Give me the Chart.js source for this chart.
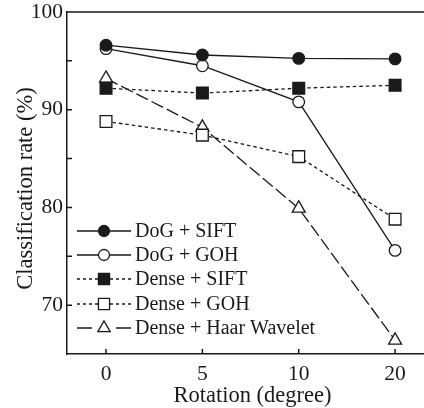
<!DOCTYPE html>
<html>
<head>
<meta charset="utf-8">
<script src="https://cdn.jsdelivr.net/npm/chart.js@4"></script>
<style>
  html, body { margin: 0; padding: 0; background: #fff; overflow: hidden; }
  #wrap { width: 424px; height: 408px; }
</style>
</head>
<body>
<div id="wrap"><canvas id="chart" width="424" height="408"></canvas></div>
<script>
// Data
const rotations = ['0', '5', '10', '20'];
const dogSift = [96.6, 95.6, 95.25, 95.2];
const dogGoh = [96.25, 94.5, 90.8, 75.6];
const denseSift = [92.2, 91.7, 92.2, 92.5];
const denseGoh = [88.8, 87.4, 85.2, 78.8];
const denseHaar = [93.2, 88.2, 79.9, 66.4];
const yTicks = [65, 70, 75, 80, 85, 90, 95, 100];
const xTitle = 'Rotation (degree)';
const yTitle = 'Classification rate (%)';

const ink = '#1a1a1a';
const serif = 'Liberation Serif';

function pts(arr) {
  return arr.map((v, i) => ({ x: i, y: v }));
}

function series(label, data, style, radius, filled, dash, legendDash) {
  return {
    label: label,
    data: pts(data),
    borderColor: ink,
    borderWidth: 1.3,
    borderDash: dash,
    legendDash: legendDash,
    pointStyle: style,
    pointRadius: radius,
    pointBorderWidth: 1.3,
    pointBorderColor: ink,
    pointBackgroundColor: filled ? ink : '#fff',
    tension: 0
  };
}

// legend drawn inside the plot, bottom left
const innerLegend = {
  id: 'innerLegend',
  afterDraw(chart) {
    const ctx = chart.ctx;
    const x0 = 77, x1 = 131, xm = 104, xt = 135;
    const rows = [231, 255, 279, 304, 328];
    chart.data.datasets.forEach((ds, i) => {
      const y = rows[i];
      ctx.save();
      ctx.strokeStyle = ds.borderColor;
      ctx.lineWidth = ds.borderWidth;
      ctx.setLineDash(ds.legendDash);
      // two halves, each dashed from the outer end inwards
      ctx.beginPath();
      ctx.moveTo(x0, y);
      ctx.lineTo(xm, y);
      ctx.moveTo(x1, y);
      ctx.lineTo(xm, y);
      ctx.stroke();
      ctx.setLineDash([]);
      ctx.fillStyle = ds.pointBackgroundColor;
      ctx.strokeStyle = ds.pointBorderColor;
      ctx.lineWidth = ds.pointBorderWidth;
      Chart.helpers.drawPoint(ctx, {
        pointStyle: ds.pointStyle,
        radius: ds.pointRadius * 0.95,
        borderWidth: ds.pointBorderWidth,
        rotation: 0
      }, xm, y);
      ctx.fillStyle = ink;
      ctx.font = '20px "' + serif + '"';
      ctx.textBaseline = 'middle';
      ctx.textAlign = 'left';
      ctx.fillText(ds.label, xt, y + 1);
      ctx.restore();
    });
  }
};

// top frame line, inward tick marks and axis titles
const frame = {
  id: 'frame',
  afterDraw(chart) {
    const ctx = chart.ctx;
    const a = chart.chartArea;
    const xs = chart.scales.x, ys = chart.scales.y;
    ctx.save();
    ctx.strokeStyle = ink;
    ctx.lineWidth = 1.5;
    ctx.beginPath();
    ctx.moveTo(a.left, a.top);
    ctx.lineTo(a.right, a.top);
    [0, 1, 2, 3].forEach(i => {
      const px = xs.getPixelForValue(i);
      ctx.moveTo(px, a.bottom);
      ctx.lineTo(px, a.bottom - 5);
    });
    yTicks.slice(1, -1).forEach(v => {
      const py = ys.getPixelForValue(v);
      ctx.moveTo(a.left, py);
      ctx.lineTo(a.left + 5, py);
    });
    ctx.stroke();

    ctx.fillStyle = ink;
    ctx.font = '22.5px "' + serif + '"';
    ctx.textAlign = 'center';
    ctx.textBaseline = 'alphabetic';
    ctx.fillText(xTitle, 252.5, 401.5);
    ctx.translate(32, 188.5);
    ctx.rotate(-Math.PI / 2);
    ctx.fillText(yTitle, 0, 0);
    ctx.restore();
  }
};

new Chart(document.getElementById('chart'), {
  type: 'line',
  data: {
    datasets: [
      series('DoG + SIFT', dogSift, 'circle', 5.8, true, [], []),
      series('DoG + GOH', dogGoh, 'circle', 5.8, false, [], []),
      series('Dense + SIFT', denseSift, 'rect', 8.3, true, [3.5, 3], [3, 3]),
      series('Dense + GOH', denseGoh, 'rect', 8.3, false, [3.5, 3], [3, 3]),
      series('Dense + Haar Wavelet', denseHaar, 'triangle', 7.5, false, [13, 4], [15, 40])
    ]
  },
  options: {
    responsive: false,
    animation: false,
    layout: { autoPadding: false, padding: { left: 0, top: 12, right: 0, bottom: 0 } },
    plugins: {
      legend: { display: false },
      tooltip: { enabled: false }
    },
    scales: {
      x: {
        type: 'linear',
        min: -0.405,
        max: 3.3,
        afterBuildTicks: (scale) => {
          scale.ticks = [0, 1, 2, 3].map(v => ({ value: v }));
        },
        afterFit: (scale) => {
          scale.height = 54;
          scale.paddingLeft = 0;
          scale.paddingRight = 0;
        },
        grid: { display: false, drawTicks: false },
        border: { display: true, color: ink, width: 1.5 },
        ticks: {
          autoSkip: false,
          maxRotation: 0,
          padding: 7,
          color: ink,
          font: { family: serif, size: 21.5 },
          callback: (v) => rotations[v]
        }
      },
      y: {
        min: 65,
        max: 100,
        afterBuildTicks: (scale) => {
          scale.ticks = yTicks.map(v => ({ value: v }));
        },
        afterFit: (scale) => {
          scale.width = 67;
          scale.paddingTop = 0;
          scale.paddingBottom = 0;
        },
        grid: { display: false, drawTicks: false },
        border: { display: true, color: ink, width: 1.5 },
        ticks: {
          padding: 4,
          color: ink,
          font: { family: serif, size: 21.5 },
          callback: (v) => (v % 10 === 0 ? v : '')
        }
      }
    }
  },
  plugins: [innerLegend, frame]
});
</script>
</body>
</html>
